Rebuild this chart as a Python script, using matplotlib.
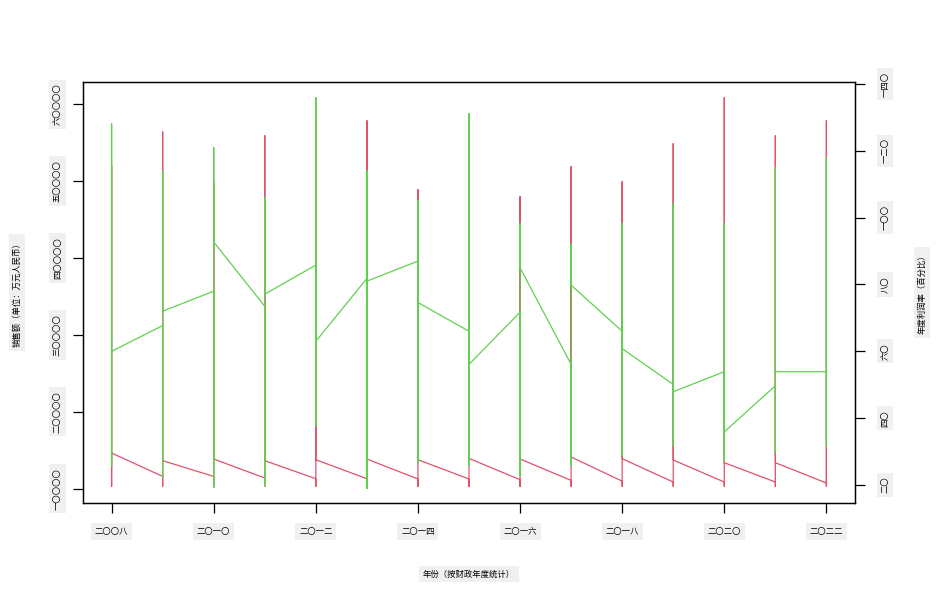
import numpy as np
import matplotlib.pyplot as plt

plt.rcParams['font.family'] = ['Noto Sans CJK SC', 'DejaVu Sans']

# Chinese numerals for tick labels
cn = str.maketrans('0123456789', '〇一二三四五六七八九')

years = [str(y).translate(cn) for y in range(2008, 2023)]

# red series (left axis): value entering the year, lowest, highest, value leaving the year
red_first = [14640, 11600, 11600, 11390, 11300, 11300, 11260, 11260, 11170, 11080, 10980, 10870, 10870, 10870, 10740]
red_low = [10300, 10300, 10300, 10300, 10300, 10300, 10300, 10300, 10300, 10300, 10300, 10300, 10300, 10300, 10300]
red_high = [52000, 56420, 50000, 55900, 58000, 57850, 48880, 54000, 47970, 51870, 49920, 54860, 60850, 55900, 57850]
red_last = [14640, 13640, 13860, 13640, 13770, 13860, 13770, 13940, 13860, 14120, 13900, 13730, 13380, 13380, 10740]

# green series (right axis)
green_first = [60.0, 67.7, 78.0, 73.5, 85.8, 81.8, 87.0, 66.0, 71.7, 56.1, 66.0, 50.1, 53.9, 49.7, 53.9]
green_low = [25.7, 22.2, 19.2, 19.7, 37.7, 18.9, 26.7, 25.9, 22.7, 25.9, 28.7, 31.7, 27.2, 29.7, 31.7]
green_high = [128.1, 114.1, 120.9, 106.0, 135.9, 114.0, 105.2, 131.1, 98.2, 92.1, 98.2, 104.1, 98.2, 114.9, 117.9]
green_last = [60.0, 72.0, 92.7, 77.1, 63.0, 81.0, 74.6, 56.1, 85.0, 79.8, 60.8, 47.9, 35.9, 53.9, 53.9]

left_ticks = [10000, 20000, 30000, 40000, 50000, 60000]
right_ticks = [20, 40, 60, 80, 100, 120, 140]

xlabel = '年份（按财政年度统计）'
ylabel_left = '销售额（单位：万元人民币）'
ylabel_right = '年度利润率（百分比）'

red_col = '#DF536B'
green_col = '#61D04F'
box = dict(boxstyle='square,pad=0.45', fc='#f0f0f0', ec='none')
fs = 6

n = len(years)
x = np.repeat(np.arange(n), 4)
y_red = np.column_stack([red_first, red_low, red_high, red_last]).ravel()
y_green = np.column_stack([green_first, green_low, green_high, green_last]).ravel()

fig = plt.figure(figsize=(9.37, 6.05), dpi=100)
ax = fig.add_axes([83 / 937, 1 - 503 / 605, 772 / 937, 421 / 605])
ax.plot(x, y_red, color=red_col, lw=0.9)
ax.set_xlim(-0.56, n - 1 + 0.56)
ax.set_ylim(8140, 62890)

ax2 = ax.twinx()
ax2.plot(x, y_green, color=green_col, lw=0.9)
ax2.set_ylim(14.6, 140.6)

ax.set_xticks(np.arange(0, n, 2))
ax.set_xticklabels(years[::2])
ax.set_yticks(left_ticks)
ax.set_yticklabels([str(v).translate(cn) for v in left_ticks], rotation=90, va='center')
ax2.set_yticks(right_ticks)
ax2.set_yticklabels([str(v).translate(cn) for v in right_ticks], rotation=90, va='center')

ax.tick_params(axis='x', direction='out', length=7.2, width=0.9, pad=10, labelsize=fs)
ax.tick_params(axis='y', direction='out', length=7.2, width=0.9, pad=8, labelsize=fs)
ax2.tick_params(axis='y', direction='out', length=7.2, width=0.9, pad=11, labelsize=fs)

for s in list(ax.spines.values()) + list(ax2.spines.values()):
    s.set_linewidth(0.9)

for lbl in ax.get_xticklabels() + ax.get_yticklabels() + ax2.get_yticklabels():
    lbl.set_bbox(box)

ax.set_xlabel(xlabel, fontsize=fs, va='center', bbox=box)
ax.xaxis.set_label_coords(0.5, -0.1686)
ax.set_ylabel(ylabel_left, fontsize=fs, va='center', bbox=box)
ax.yaxis.set_label_coords(-0.0855, 0.5)
ax2.set_ylabel(ylabel_right, fontsize=fs, va='center', rotation=90, bbox=box)
ax2.yaxis.set_label_coords(1.0868, 0.5)

plt.savefig('out.png', dpi=100)
